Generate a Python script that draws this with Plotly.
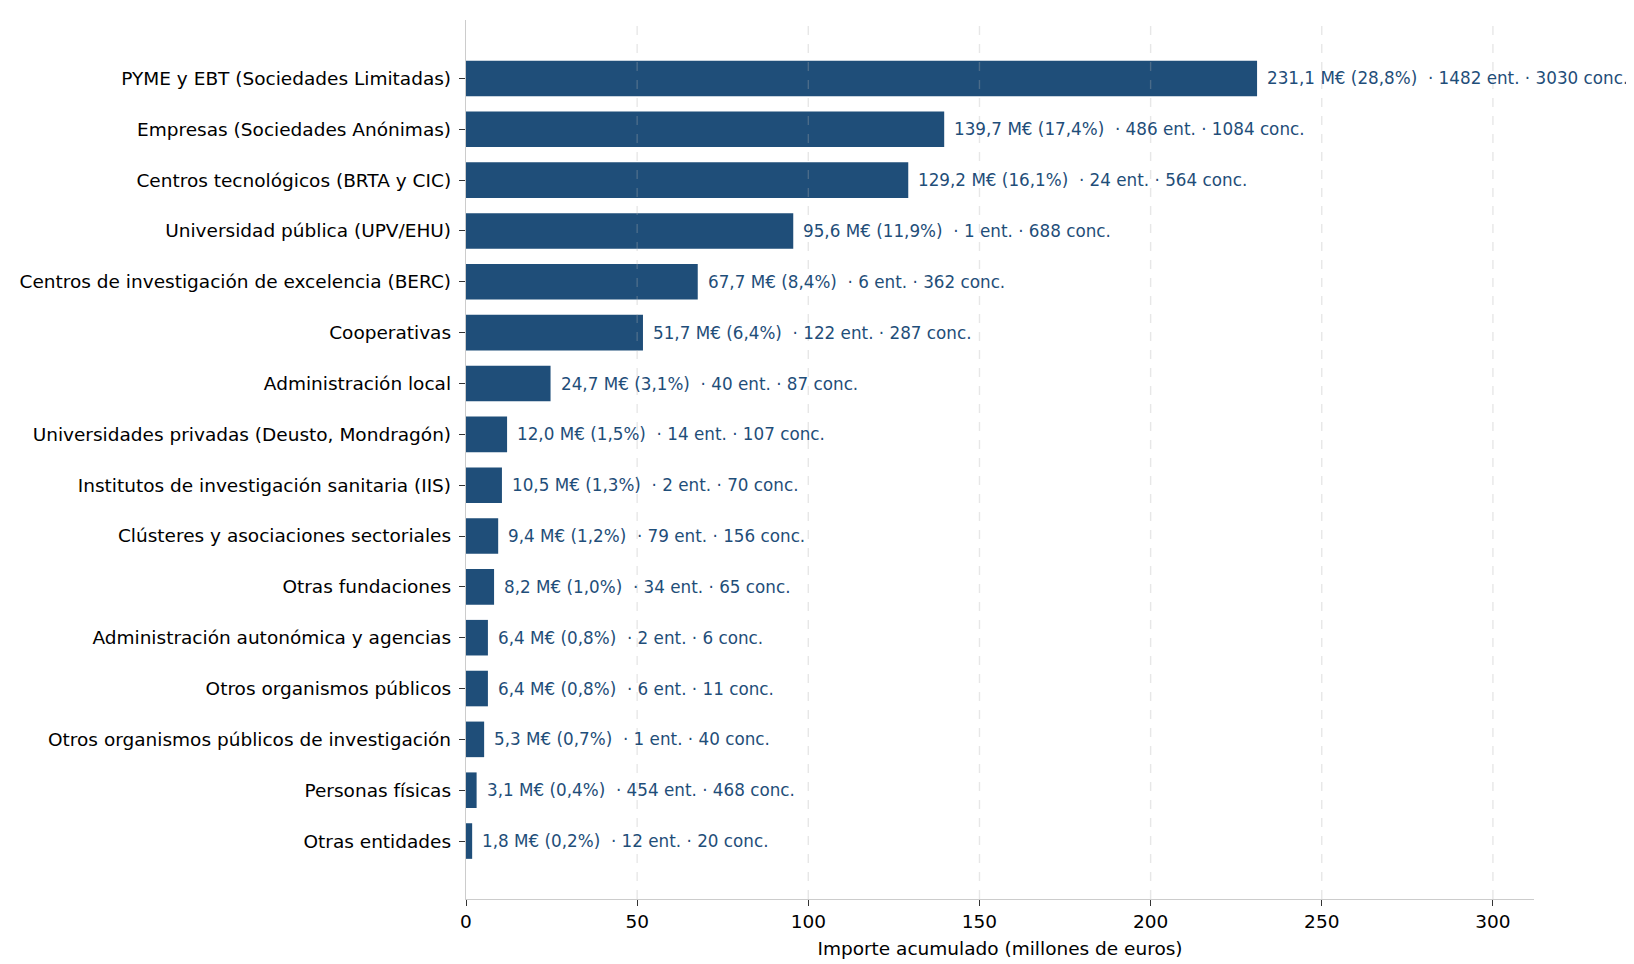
import plotly.graph_objects as go

categories = [
    "PYME y EBT (Sociedades Limitadas)",
    "Empresas (Sociedades Anónimas)",
    "Centros tecnológicos (BRTA y CIC)",
    "Universidad pública (UPV/EHU)",
    "Centros de investigación de excelencia (BERC)",
    "Cooperativas",
    "Administración local",
    "Universidades privadas (Deusto, Mondragón)",
    "Institutos de investigación sanitaria (IIS)",
    "Clústeres y asociaciones sectoriales",
    "Otras fundaciones",
    "Administración autonómica y agencias",
    "Otros organismos públicos",
    "Otros organismos públicos de investigación",
    "Personas físicas",
    "Otras entidades",
]
importe = [231.1, 139.7, 129.2, 95.6, 67.7, 51.7, 24.7, 12.0, 10.5, 9.4, 8.2, 6.4, 6.4, 5.3, 3.1, 1.8]
pct = [28.8, 17.4, 16.1, 11.9, 8.4, 6.4, 3.1, 1.5, 1.3, 1.2, 1.0, 0.8, 0.8, 0.7, 0.4, 0.2]
entidades = [1482, 486, 24, 1, 6, 122, 40, 14, 2, 79, 34, 2, 6, 1, 454, 12]
concesiones = [3030, 1084, 564, 688, 362, 287, 87, 107, 70, 156, 65, 6, 11, 40, 468, 20]
x_ticks = [0, 50, 100, 150, 200, 250, 300]

BLUE = "#1f4e79"
FONT = "DejaVu Sans"

def fmt(v):
    return f"{v:.1f}".replace(".", ",")

labels = [
    f"{fmt(v)} M€ ({fmt(p)}%)  · {e} ent. · {c} conc."
    for v, p, e, c in zip(importe, pct, entidades, concesiones)
]

n = len(categories)

fig = go.Figure()
fig.add_trace(go.Bar(
    y=categories, x=importe, orientation="h",
    marker=dict(color=BLUE, line=dict(width=0)),
    width=0.7, hoverinfo="skip",
))

for cat, v, lab in zip(categories, importe, labels):
    fig.add_annotation(
        x=v, y=cat, xref="x", yref="y", text=lab, showarrow=False,
        xanchor="left", yanchor="middle", xshift=8,
        font=dict(family=FONT, size=16.8, color=BLUE),
    )

for t in x_ticks[1:]:
    fig.add_shape(
        type="line", xref="x", yref="paper", x0=t, x1=t, y0=0, y1=1,
        line=dict(color="rgba(176,176,176,0.3)", width=1.4, dash="dash"),
        layer="above",
    )

fig.update_layout(
    width=1634, height=964,
    paper_bgcolor="white", plot_bgcolor="white",
    margin=dict(l=458, r=108, t=12, b=73),
    showlegend=False,
    font=dict(family=FONT, size=18.5, color="black"),
    xaxis=dict(
        range=[0, 312], tickvals=x_ticks, showgrid=False, zeroline=False,
        showline=True, linecolor="#cccccc", linewidth=1.4,
        ticks="outside", ticklen=6, tickcolor="#333333", tickwidth=1.3,
        tickfont=dict(family=FONT, size=18.5, color="black"),
        title=dict(text="Importe acumulado (millones de euros)",
                   font=dict(family=FONT, size=18.5, color="black"), standoff=10),
    ),
    yaxis=dict(
        categoryorder="array", categoryarray=categories,
        autorange=False, range=[n - 1 + 1.14, -1.15],
        showgrid=False, zeroline=False,
        showline=True, linecolor="#cccccc", linewidth=1.4,
        ticks="outside", ticklen=6, tickcolor="#333333", tickwidth=1.3,
        ticklabelstandoff=4,
        tickfont=dict(family=FONT, size=18.5, color="black"),
    ),
)

fig.write_html("out.html")
